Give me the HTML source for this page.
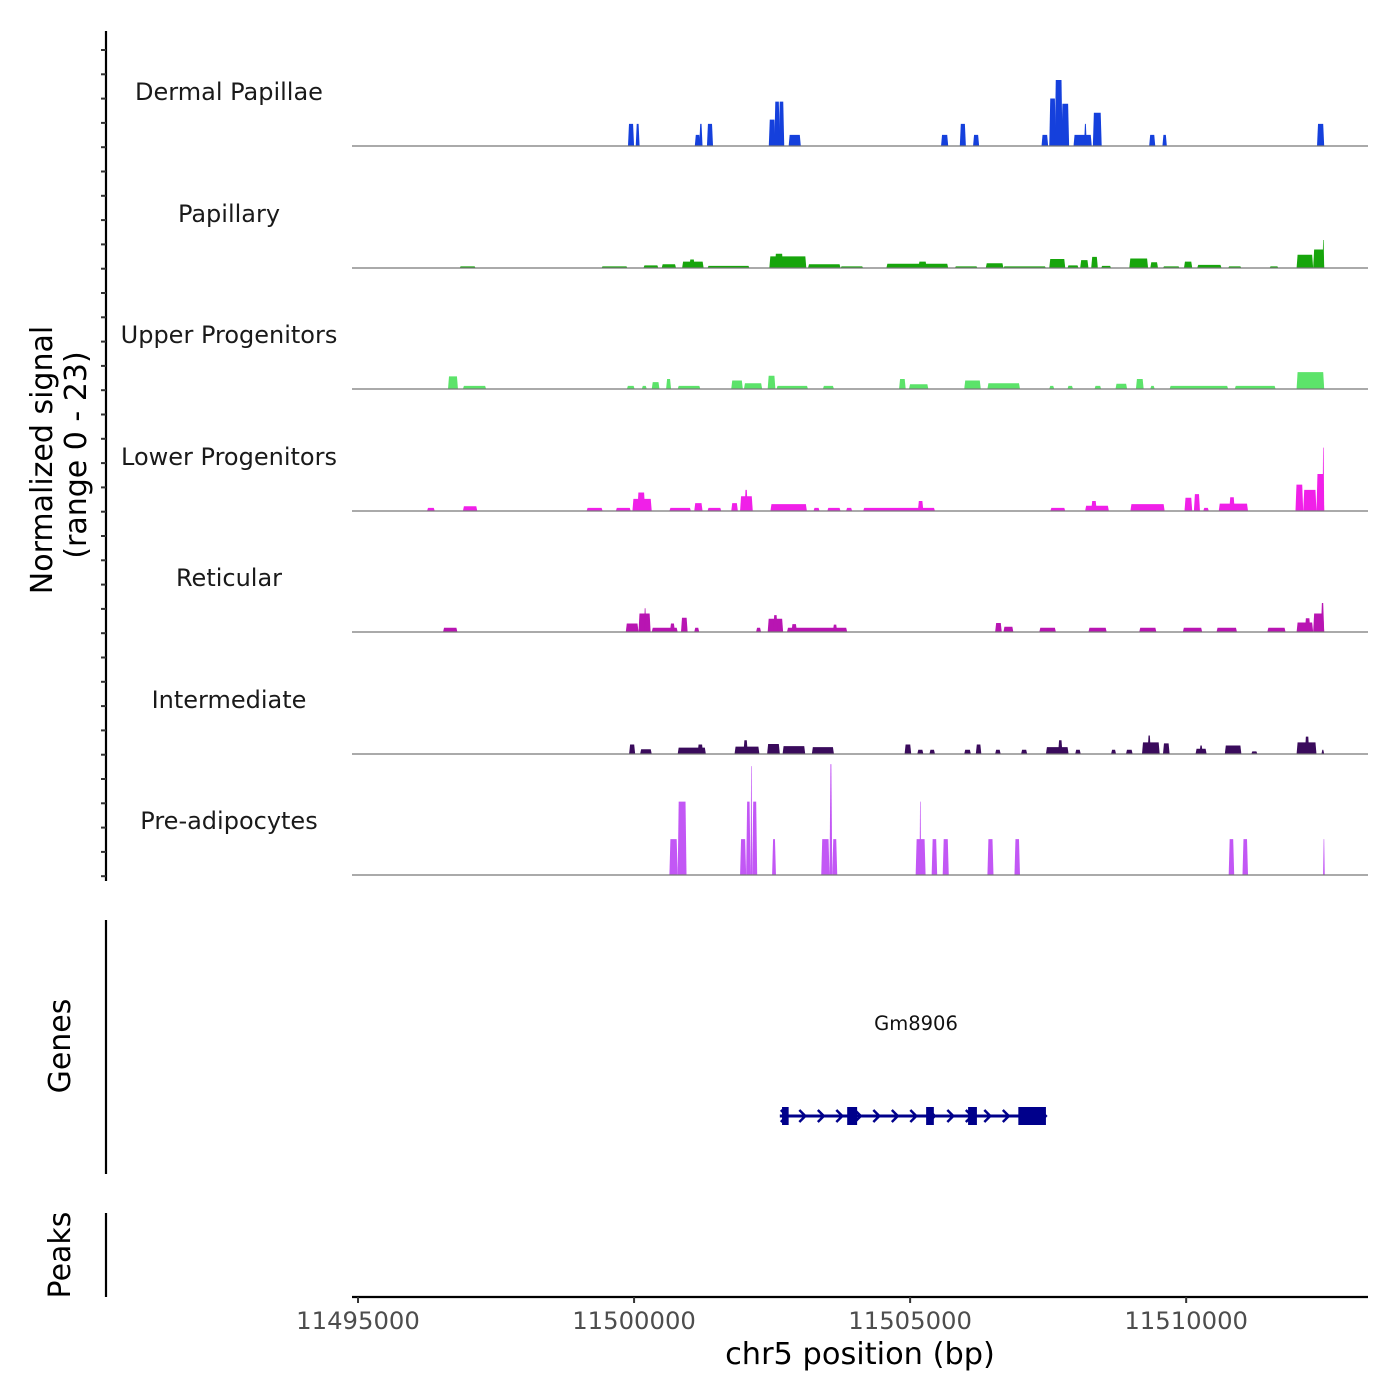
<!DOCTYPE html>
<html><head><meta charset="utf-8"><style>
html,body{margin:0;padding:0;background:#fff;}
svg{display:block;font-family:"DejaVu Sans","Liberation Sans",sans-serif;}
</style></head><body>
<svg id="chart" width="1400" height="1400" viewBox="0 0 1400 1400">
<g id="axes"></g>
<g id="tracks"></g>
<g id="genes"></g>
</svg>
<script>
// ---- data ----
const trackNames = ["Dermal Papillae","Papillary","Upper Progenitors","Lower Progenitors","Reticular","Intermediate","Pre-adipocytes"];
const trackColors = ["#1540dc","#17a50c","#5ce36a","#f020e8","#b815b2","#3a0b5c","#c257f5"];
const signalRange = [0, 23];
const xTicks = [11495000, 11500000, 11505000, 11510000];
const xTickLabels = ["11495000","11500000","11505000","11510000"];
// peaks: [start bp, end bp, signal]
const dermalPapillae = [[11499890,11500000,4.2],[11500030,11500100,4.2],[11501100,11501200,2.1],[11501180,11501240,4.2],[11501320,11501430,4.2],[11502440,11502560,5],[11502540,11502640,8.4],[11502620,11502720,8.4],[11502800,11503020,2.1],[11505560,11505690,2.1],[11505900,11506010,4.2],[11506140,11506250,2.1],[11507380,11507500,2.1],[11507520,11507640,9],[11507620,11507760,12.5],[11507740,11507880,8],[11507960,11508290,2.1],[11508150,11508200,4.2],[11508310,11508470,6.3],[11509330,11509440,2.1],[11509570,11509650,2.1],[11512370,11512500,4.2]];
const papillary = [[11496840,11497130,0.3],[11499410,11499880,0.3],[11500170,11500440,0.5],[11500500,11500760,0.7],[11500870,11501260,1.2],[11501000,11501100,1.6],[11501330,11502090,0.4],[11502450,11503120,2.2],[11502550,11502700,2.7],[11503150,11503740,0.7],[11503740,11504150,0.3],[11504570,11505690,0.8],[11505150,11505300,1.2],[11505810,11506220,0.3],[11506370,11506690,0.9],[11506690,11507460,0.3],[11507520,11507810,1.7],[11507850,11508050,0.5],[11508080,11508230,1.5],[11508280,11508400,2.1],[11508460,11508640,0.4],[11508970,11509310,1.8],[11509350,11509490,1.1],[11509580,11509880,0.3],[11509960,11510110,1.2],[11510200,11510640,0.6],[11510760,11511000,0.3],[11511510,11511670,0.3],[11512000,11512300,2.5],[11512300,11512500,3.5],[11512470,11512500,5.3]];
const upperProgenitors = [[11496630,11496810,2.4],[11496900,11497320,0.6],[11499870,11500010,0.6],[11500140,11500230,0.6],[11500320,11500460,1.3],[11500580,11500670,1.9],[11500790,11501200,0.6],[11501760,11501970,1.6],[11501990,11502320,1.1],[11502420,11502560,2.5],[11502580,11503150,0.6],[11503420,11503620,0.6],[11504800,11504920,1.9],[11504980,11505330,0.9],[11505980,11506280,1.6],[11506400,11506990,1.1],[11507520,11507610,0.6],[11507850,11507950,0.6],[11508340,11508460,0.6],[11508720,11508930,1.0],[11509090,11509230,1.9],[11509350,11509430,0.6],[11509700,11510760,0.6],[11510880,11511620,0.6],[11512000,11512500,3.2]];
const lowerProgenitors = [[11496250,11496390,0.6],[11496900,11497160,0.9],[11499140,11499430,0.6],[11499670,11499940,0.6],[11499970,11500320,2.3],[11500060,11500200,3.5],[11500640,11501030,0.6],[11501090,11501240,1.5],[11501330,11501580,0.6],[11501760,11501880,1.5],[11501920,11502150,2.8],[11502000,11502060,4],[11502470,11503130,1.3],[11503250,11503360,0.6],[11503500,11503740,0.6],[11503840,11503950,0.6],[11504150,11505450,0.6],[11505140,11505240,1.9],[11507540,11507810,0.6],[11508170,11508600,1.0],[11508280,11508380,1.9],[11508990,11509610,1.3],[11509970,11510110,2.5],[11510140,11510250,3.2],[11510310,11510410,0.6],[11510590,11511120,1.4],[11510780,11510880,2.6],[11511980,11512120,5],[11512120,11512360,4],[11512360,11512500,7],[11512470,11512500,12]];
const reticular = [[11496540,11496800,0.8],[11499850,11500080,1.6],[11500080,11500300,3.5],[11500180,11500220,4.5],[11500320,11500790,0.8],[11500650,11500740,1.6],[11500850,11500970,2.7],[11501090,11501180,0.8],[11502210,11502300,0.8],[11502420,11502700,2.5],[11502520,11502600,3.2],[11502770,11503860,0.8],[11502850,11502950,1.5],[11503600,11503680,1.4],[11506540,11506660,1.7],[11506690,11506870,1.0],[11507340,11507640,0.8],[11508230,11508560,0.8],[11509150,11509460,0.8],[11509940,11510290,0.8],[11510550,11510920,0.8],[11511470,11511800,0.8],[11512000,11512300,1.8],[11512150,11512250,2.6],[11512300,11512500,3.5],[11512440,11512500,5.5]];
const intermediate = [[11499910,11500020,1.8],[11500110,11500320,0.9],[11500790,11501300,1.2],[11501150,11501250,1.8],[11501820,11502270,1.4],[11501980,11502060,2.6],[11502410,11502640,1.9],[11502690,11503100,1.5],[11503220,11503620,1.3],[11504900,11505020,1.8],[11505130,11505240,0.8],[11505350,11505450,0.8],[11505980,11506100,0.8],[11506190,11506290,1.8],[11506540,11506640,0.8],[11507010,11507120,0.8],[11507460,11507870,1.3],[11507680,11507760,2.6],[11507990,11508090,0.8],[11508640,11508730,0.8],[11508910,11509030,0.8],[11509200,11509520,2.2],[11509300,11509360,3.5],[11509580,11509700,2.0],[11510170,11510370,1.0],[11510240,11510300,1.6],[11510700,11511000,1.6],[11511180,11511290,0.5],[11512000,11512360,2.2],[11512150,11512230,3.3],[11512450,11512500,0.8]];
const preAdipocytes = [[11500640,11500790,6.8],[11500790,11500950,13.9],[11501920,11502030,6.8],[11502030,11502110,13.9],[11502110,11502140,20.6],[11502140,11502230,13.9],[11502500,11502570,6.8],[11503390,11503540,6.8],[11503540,11503590,21],[11503590,11503680,6.8],[11505100,11505280,6.8],[11505170,11505200,13.9],[11505390,11505490,6.8],[11505590,11505700,6.8],[11506400,11506510,6.8],[11506890,11506990,6.8],[11510770,11510870,6.8],[11511020,11511120,6.8],[11512480,11512510,6.8]];
const trackData = [dermalPapillae, papillary, upperProgenitors, lowerProgenitors, reticular, intermediate, preAdipocytes];
const geneName = "Gm8906";
const geneSpan = [11502640, 11507464];
const geneExons = [[11502680,11502800],[11503860,11504040],[11505290,11505430],[11506050,11506210],[11506960,11507460]];

// ---- layout ----
const NS = "http://www.w3.org/2000/svg";
const X0 = 352, X1 = 1368, BP0 = 11494891, PXPERBP = 0.05521;
const xs = bp => X0 + (bp - BP0) * PXPERBP;
const baselines = [146, 268, 389, 511, 632, 754, 875];
const trackH = 121.5;
const ys = (v, base) => base - (v - signalRange[0]) / (signalRange[1] - signalRange[0]) * trackH;
function mk(tag, attrs, parent) { const e = document.createElementNS(NS, tag); for (const k in attrs) e.setAttribute(k, attrs[k]); parent.appendChild(e); return e; }

const axes = document.getElementById('axes');
const tracks = document.getElementById('tracks');
const genes = document.getElementById('genes');

let ax = mk('line', {x1:106, y1:31, x2:106, y2:881, stroke:'#000', 'stroke-width':2.2}, axes);


for (let k = 0; k < 35; k++) {
  const y = 50 + k * 24.3;
  const t = mk('line', {x1:101, y1:y, x2:106, y2:y, stroke:'#333', 'stroke-width':2}, axes);
  
  
}
let yt = mk('text', {x:0, y:0, 'font-size':30, 'text-anchor':'middle', transform:'translate(52,460) rotate(-90)'}, axes);
yt.textContent = 'Normalized signal';


let yt2 = mk('text', {x:0, y:0, 'font-size':30, 'text-anchor':'middle', transform:'translate(86,455) rotate(-90)'}, axes);
yt2.textContent = '(range 0 - 23)';



let ga = mk('line', {x1:106, y1:920, x2:106, y2:1174, stroke:'#000', 'stroke-width':2.2}, axes);


let gt = mk('text', {x:0, y:0, 'font-size':30, 'text-anchor':'middle', transform:'translate(70,1046) rotate(-90)'}, axes);
gt.textContent = 'Genes';


let pa = mk('line', {x1:106, y1:1213, x2:106, y2:1297, stroke:'#000', 'stroke-width':2.2}, axes);


let pt = mk('text', {x:0, y:0, 'font-size':30, 'text-anchor':'middle', transform:'translate(70,1255) rotate(-90)'}, axes);
pt.textContent = 'Peaks';



let xa = mk('line', {x1:X0, y1:1297, x2:X1, y2:1297, stroke:'#000', 'stroke-width':2.2}, axes);


xTicks.forEach((v, i) => {
  const x = xs(v);
  const t = mk('line', {x1:x, y1:1297, x2:x, y2:1303, stroke:'#333', 'stroke-width':2}, axes);
  
  
  const l = mk('text', {x:x, y:1329, 'font-size':24.3, 'text-anchor':'middle', fill:'#4d4d4d'}, axes);
  l.textContent = xTickLabels[i];
  
  
});
let xt = mk('text', {x:860, y:1364, 'font-size':30.4, 'text-anchor':'middle'}, axes);
xt.textContent = 'chr5 position (bp)';



trackData.forEach((peaks, ti) => {
  const base = baselines[ti];
  const g = mk('g', {}, tracks);
  
  
  const lab = mk('text', {x:229, y:base - 46, 'font-size':24, 'text-anchor':'middle', fill:'#1a1a1a'}, g);
  lab.textContent = trackNames[ti];
  
  
  peaks.forEach(p => {
    const a = xs(p[0]), b = xs(p[1]), top = ys(p[2], base);
    const s = Math.min(1, (b - a) / 3);
    const poly = mk('polygon', {points: `${a},${base} ${a + s},${top} ${b - s},${top} ${b},${base}`, fill: trackColors[ti]}, g);
    
    
  });
  const bl = mk('line', {x1:X0, y1:base, x2:X1, y2:base, stroke:'#777', 'stroke-width':1.2}, g);
  
  
});

const gy = 1116;
let gl = mk('text', {x:916, y:1030, 'font-size':19.5, 'text-anchor':'middle', fill:'#111'}, genes);
gl.textContent = geneName;


let gline = mk('line', {x1:xs(geneSpan[0]), y1:gy, x2:xs(geneSpan[1]), y2:gy, stroke:'#00008b', 'stroke-width':3}, genes);


for (let x = xs(geneSpan[0]) + 1; x < xs(geneSpan[1]) - 4; x += 18.5) {
  const c = mk('polyline', {points:`${x},${gy-6} ${x+6},${gy} ${x},${gy+6}`, fill:'none', stroke:'#00008b', 'stroke-width':2.5}, genes);
  
  
}
geneExons.forEach(e => {
  const a = xs(e[0]), b = xs(e[1]);
  const r = mk('rect', {x:a, y:gy - 9, width:Math.max(2, b - a), height:18, fill:'#00008b'}, genes);
  
  
});
</script>
</body></html>
